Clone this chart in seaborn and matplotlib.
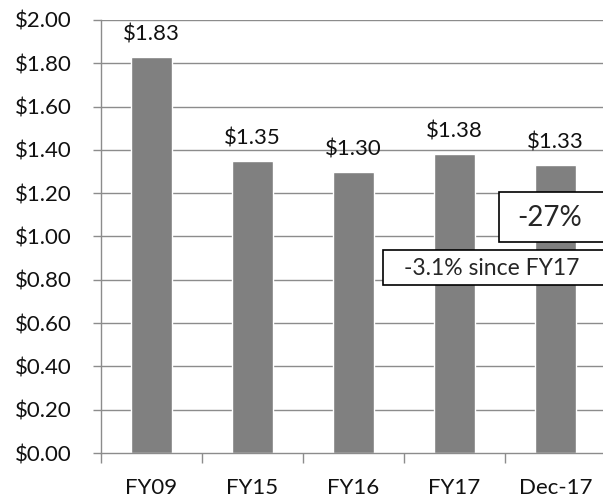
import matplotlib
matplotlib.use("Agg")
import matplotlib.pyplot as plt
import seaborn as sns
import pandas as pd
from matplotlib.patches import Rectangle
from matplotlib.ticker import FixedLocator

categories = ["FY09", "FY15", "FY16", "FY17", "Dec-17"]
values = [1.83, 1.35, 1.30, 1.38, 1.33]
value_labels = ["$1.83", "$1.35", "$1.30", "$1.38", "$1.33"]
yticks = [0.0, 0.2, 0.4, 0.6, 0.8, 1.0, 1.2, 1.4, 1.6, 1.8, 2.0]
ytick_labels = ["$0.00", "$0.20", "$0.40", "$0.60", "$0.80", "$1.00",
                "$1.20", "$1.40", "$1.60", "$1.80", "$2.00"]
note_big = "-27%"
note_small = "-3.1% since FY17"

sns.set_style("white")
plt.rcParams["font.family"] = ["Lato", "DejaVu Sans"]

df = pd.DataFrame({"cat": categories, "val": values})

W, H = 603, 498
fig = plt.figure(figsize=(W / 100, H / 100), dpi=100)
ax = fig.add_axes([101 / W, 1 - 453 / H, (606 - 101) / W, (453 - 20) / H])

grid_c = "#8c8c8c"
ax.set_axisbelow(True)
for y in yticks[1:]:
    ax.axhline(y, color=grid_c, lw=1.0, zorder=0)

sns.barplot(data=df, x="cat", y="val", color="#808080", saturation=1,
            width=0.40, ax=ax, zorder=2)

FS = 16
ax.set_xlim(-0.5, 4.5)
ax.set_ylim(0, 2.0)
ax.set_yticks(yticks)
ax.set_yticklabels(ytick_labels, fontsize=FS)
ax.set_xlabel("")
ax.set_ylabel("")
ax.tick_params(axis="x", length=0, pad=18, labelsize=FS, labelcolor="#111111")
ax.tick_params(axis="y", length=6, width=1, color=grid_c, pad=15, direction="out",
               left=True, labelcolor="#111111")
ax.xaxis.set_minor_locator(FixedLocator([-0.5, 0.5, 1.5, 2.5, 3.5]))
ax.tick_params(axis="x", which="minor", length=7, width=1, color=grid_c, direction="out", bottom=True)

for s in ["top", "right"]:
    ax.spines[s].set_visible(False)
for s in ["left", "bottom"]:
    ax.spines[s].set_color(grid_c)
    ax.spines[s].set_linewidth(1.0)

for i, (v, lab) in enumerate(zip(values, value_labels)):
    ax.annotate(lab, (i, v), xytext=(0, 9), textcoords="offset points",
                ha="center", va="bottom", fontsize=FS, color="#111111")

# Boxes (figure pixel coords)
def px_rect(x0, y0, x1, y1):
    return Rectangle((x0 / W, 1 - y1 / H), (x1 - x0) / W, (y1 - y0) / H,
                     transform=fig.transFigure, facecolor="white",
                     edgecolor="black", lw=1.2, zorder=5)

fig.patches.append(px_rect(499, 192, 612, 242))
fig.text(550 / W, 1 - 218 / H, note_big, ha="center", va="center", fontsize=20, zorder=6)
fig.patches.append(px_rect(383, 250, 612, 285))
fig.text(492 / W, 1 - 268 / H, note_small, ha="center", va="center", fontsize=16.5, zorder=6)

fig.savefig("out.png", dpi=100)
